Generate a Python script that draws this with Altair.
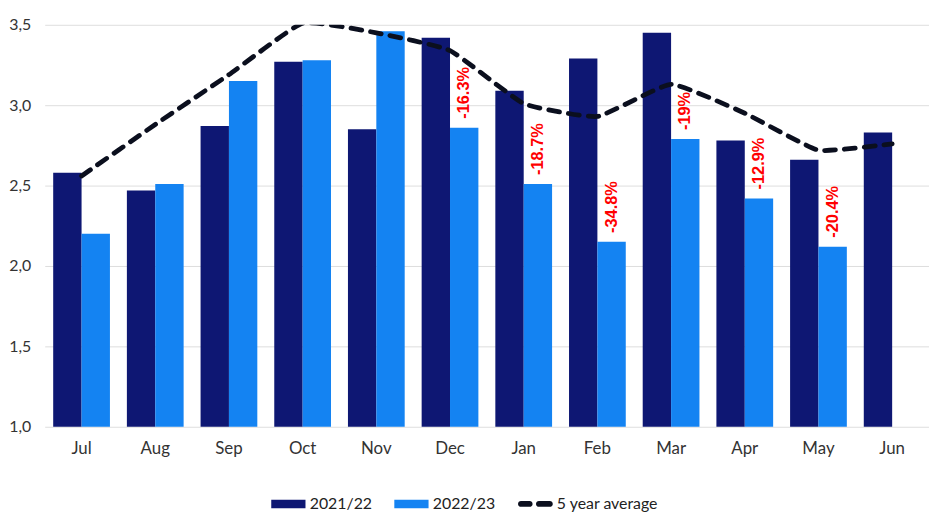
import altair as alt
import pandas as pd

months = ["Jul", "Aug", "Sep", "Oct", "Nov", "Dec", "Jan", "Feb", "Mar", "Apr", "May", "Jun"]
s2122 = [2.58, 2.47, 2.87, 3.27, 2.85, 3.42, 3.09, 3.29, 3.45, 2.78, 2.66, 2.83]
s2223 = [2.20, 2.51, 3.15, 3.28, 3.46, 2.86, 2.51, 2.15, 2.79, 2.42, 2.12, None]
avg5 = [2.56, 2.88, 3.19, 3.51, 3.45, 3.34, 3.01, 2.93, 3.13, 2.95, 2.72, 2.76]
pct_labels = ["", "", "", "", "", "-16.3%", "-18.7%", "-34.8%", "-19%", "-12.9%", "-20.4%", ""]
series_names = ["2021/22", "2022/23", "5 year average"]
colors = ["#0e1773", "#1483f2", "#0b0f1e"]
y_base = 1.0

rows = []
for m, a, b in zip(months, s2122, s2223):
    rows.append({"month": m, "series": "2021/22", "value": a})
    if b is not None:
        rows.append({"month": m, "series": "2022/23", "value": b})
bars_df = pd.DataFrame(rows)
avg_df = pd.DataFrame({"month": months, "avg": avg5})
lab_df = pd.DataFrame({"month": months, "series": "2022/23", "value": s2223, "label": pct_labels})
lab_df = lab_df[lab_df["label"] != ""]

FONT = "Lato"

x_enc = alt.X("month:N", sort=months, title=None,
              scale=alt.Scale(paddingInner=0.23, paddingOuter=0.115),
              axis=alt.Axis(labelAngle=0, labelFontSize=17, labelColor="#333333",
                            labelFont=FONT, domain=False, ticks=False, labelPadding=14))
y_scale = alt.Scale(domain=[1.0, 3.5], zero=False, nice=False)

bar_path = "M-1,-0.25H1V0.25H-1Z"
dash_path = ("M-0.85,-0.17H-0.34A0.17,0.17 0 0 1 -0.34,0.17H-0.85A0.17,0.17 0 0 1 -0.85,-0.17Z"
             "M0.2,-0.17H0.84A0.17,0.17 0 0 1 0.84,0.17H0.2A0.17,0.17 0 0 1 0.2,-0.17Z")

bars = alt.Chart(bars_df).mark_bar().encode(
    x=x_enc,
    xOffset=alt.XOffset("series:N", sort=["2021/22", "2022/23"],
                        scale=alt.Scale(domain=["2021/22", "2022/23"], paddingInner=0, paddingOuter=0)),
    y=alt.Y("value:Q", scale=y_scale, title=None,
            axis=alt.Axis(values=[1.0, 1.5, 2.0, 2.5, 3.0, 3.5],
                          labelExpr="replace(format(datum.value, '.1f'), '.', ',')",
                          labelFontSize=16, labelColor="#333333", labelFont=FONT,
                          domain=False, ticks=False, labelPadding=14,
                          gridColor="#dedede", gridWidth=1)),
    y2=alt.datum(y_base),
    color=alt.Color("series:N",
                    scale=alt.Scale(domain=series_names, range=colors),
                    legend=alt.Legend(
                        title=None, orient="none", direction="horizontal",
                        legendX=228, legendY=465,
                        symbolType={"expr": "datum.value === '5 year average' ? '" + dash_path + "' : '" + bar_path + "'"},
                        symbolSize=1190, symbolStrokeWidth=0,
                        labelFontSize=16, labelFont=FONT, labelColor="#222222",
                        labelOffset=4, columnPadding=22)),
)

line = alt.Chart(avg_df).mark_line(
    color=colors[2], strokeWidth=4.8, strokeDash=[11, 9], strokeCap="round",
    interpolate="cardinal", tension=0.6, clip=True
).encode(
    x=alt.X("month:N", sort=months),
    y=alt.Y("avg:Q", scale=y_scale),
)

labels = alt.Chart(lab_df).mark_text(
    color="#ff0000", fontWeight="bold", fontSize=16.5, font="Liberation Sans",
    angle=270, align="left", baseline="middle", dx=9
).encode(
    x=alt.X("month:N", sort=months),
    xOffset=alt.XOffset("series:N"),
    y=alt.Y("value:Q", scale=y_scale),
    text="label:N",
)

chart = alt.layer(bars, labels, line).properties(
    width=891, height=405,
    autosize=alt.AutoSizeParams(type="none"),
    padding={"left": 37, "top": 15, "right": 0, "bottom": 90},
).configure_view(stroke=None).configure_axis(grid=True).configure_axisX(grid=False)

chart.save("out.html", embed_options={"renderer": "svg", "actions": False})
